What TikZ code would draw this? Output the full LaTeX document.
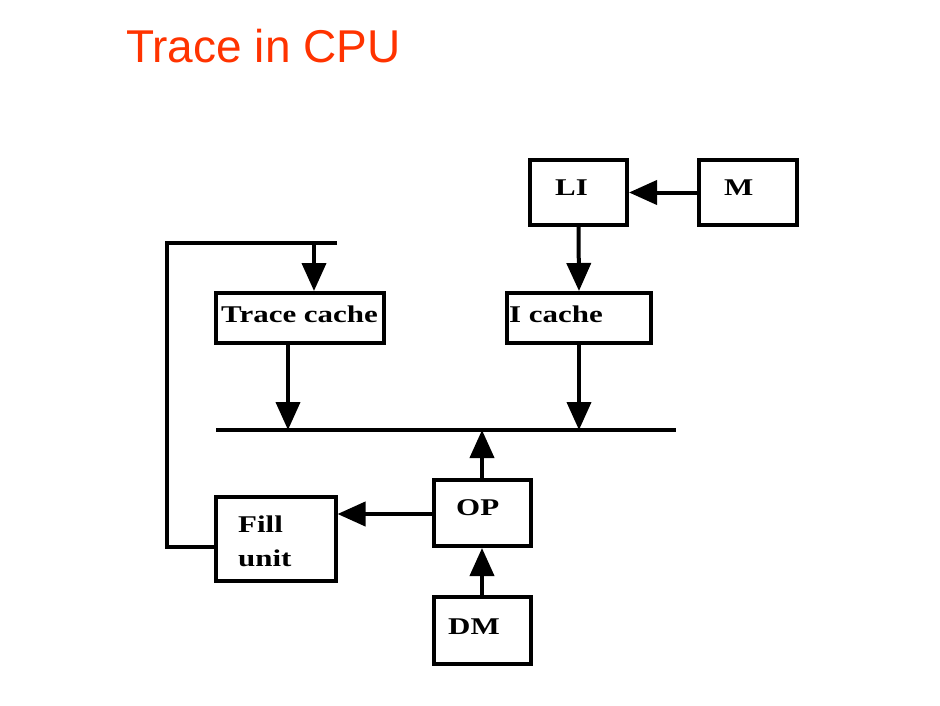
\documentclass[tikz,border=0pt]{standalone}
\usepackage{fontspec}
\setmainfont{Liberation Serif}
\newfontfamily\titlefont{Liberation Sans}
\usetikzlibrary{arrows.meta}
\definecolor{titlered}{HTML}{FF3300}
\newcommand\widetxt[1]{\scalebox{1.29}[1]{#1}}
\begin{document}
\begin{tikzpicture}[x=1pt,y=-1pt,
  box/.style={draw,line width=4pt,minimum width=#1,inner sep=0pt},
  lbl/.style={anchor=base west,inner sep=0pt,font=\fontsize{24}{24}\selectfont\bfseries},
  conn/.style={line width=4pt,-{Triangle[length=28pt,width=24pt]}},
  wire/.style={line width=4pt}]
\useasboundingbox (0,0) rectangle (940,706);
\node[anchor=base west,inner sep=0pt,text=titlered,font=\titlefont\fontsize{46}{46}\selectfont] (title) at (126,63) {Trace in CPU};
% boxes
\node[box=97pt,minimum height=65pt] (li) at (578.5,192.5) {};
\node[box=98pt,minimum height=65pt] (m) at (748,192.5) {};
\node[box=144pt,minimum height=50pt] (ic) at (579,318) {};
\node[box=168pt,minimum height=50pt] (tc) at (300,318) {};
\node[box=97pt,minimum height=66pt] (op) at (482,513) {};
\node[box=120pt,minimum height=84pt] (fu) at (275.5,538.5) {};
\node[box=97pt,minimum height=67pt] (dm) at (482,630.5) {};
% labels
\node[lbl] (tli) at (555,195) {\widetxt{LI}};
\node[lbl] (tm) at (724,195) {\widetxt{M}};
\node[lbl] (tic) at (509,322) {\widetxt{I cache}};
\node[lbl] (ttc) at (221,322) {\widetxt{Trace cache}};
\node[lbl] (top) at (456,515) {\widetxt{OP}};
\node[lbl] (tfu1) at (238,532) {\widetxt{Fill}};
\node[lbl] (tfu2) at (238,566) {\widetxt{unit}};
\node[lbl] (tdm) at (448,634) {\widetxt{DM}};
% bus and feedback coordinates
\coordinate (busL) at (216,430);
\coordinate (busR) at (676,430);
\coordinate (fbL) at (167,243);
\coordinate (fbR) at (337,243);
\coordinate (fbA) at (314,243);
\coordinate (fbD) at (167,547);
\coordinate (tcOut) at (288,343);
\draw[wire] (busL) -- (busR);
\draw[wire] (fbR) -- (fbL) -- (fbD) -- (fbD -| fu.west);
% connectors
\draw[conn] (m.west) -- (li.east);
\draw[conn] (li.south) -- (ic.north);
\draw[conn] (fbA) -- (fbA |- tc.north);
\draw[conn] (tcOut |- tc.south) -- (tcOut |- busL);
\draw[conn] (ic.south) -- (ic.south |- busL);
\draw[conn] (op.north) -- (op.north |- busL);
\draw[conn] (op.west |- fu.east) ++(0,-24.5) coordinate (opw) -- (opw -| fu.east);
\draw[conn] (dm.north) -- (op.south);
\end{tikzpicture}
\end{document}
